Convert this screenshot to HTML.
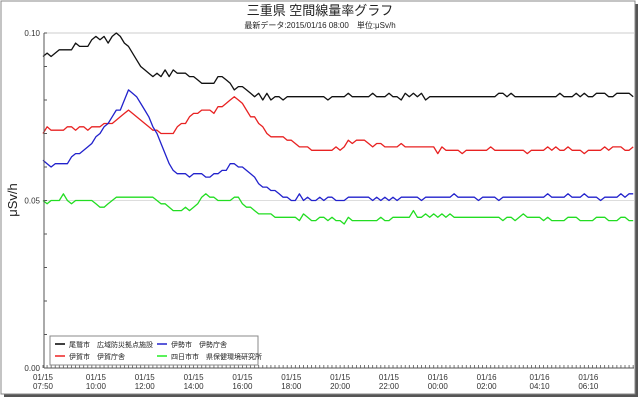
<!DOCTYPE html>
<html><head><meta charset="utf-8">
<style>
html,body{margin:0;padding:0;background:#fff;}
svg{display:block;font-family:"Liberation Sans","Noto Sans CJK JP",sans-serif;}
</style></head>
<body>
<svg id="chart" width="640" height="400" viewBox="0 0 640 400">
  <rect x="4" y="4" width="634" height="393" fill="#555"/>
  <rect x="1" y="1" width="634" height="393" fill="#fff" stroke="#888" stroke-width="1"/>
  <text x="320" y="15" text-anchor="middle" font-size="13" fill="#222">三重県 空間線量率グラフ</text>
  <text x="320" y="28" text-anchor="middle" font-size="8" fill="#222">最新データ:2015/01/16 08:00　単位:μSv/h</text>
  <text x="0" y="0" transform="translate(17,200) rotate(-90)" text-anchor="middle" font-size="13" fill="#222">μSv/h</text>
  <g id="grid"></g>
  <g id="series"></g>
  <g id="axes"></g>
  <g>
    <rect x="50" y="336" width="208" height="29" fill="#fff" stroke="#888" stroke-width="1"/>
    <g><line x1="55" y1="344" x2="65" y2="344" stroke="#000" stroke-width="1.5"/><text x="69" y="347" font-size="7" fill="#222">尾鷲市　広域防災拠点施設</text></g>
    <g><line x1="157" y1="344" x2="167" y2="344" stroke="#22c" stroke-width="1.5"/><text x="171" y="347" font-size="7" fill="#222">伊勢市　伊勢庁舎</text></g>
    <g><line x1="55" y1="356" x2="65" y2="356" stroke="#e22" stroke-width="1.5"/><text x="69" y="359" font-size="7" fill="#222">伊賀市　伊賀庁舎</text></g>
    <g><line x1="157" y1="356" x2="167" y2="356" stroke="#2e2" stroke-width="1.5"/><text x="171" y="359" font-size="7" fill="#222">四日市市　県保健環境研究所</text></g>
  </g>
</svg>
<script>
const categories = Array.from({length:146}, (_, i) => i);
const tickLabels = [["01/15","07:50",0],["01/15","10:00",13],["01/15","12:00",25],["01/15","14:00",37],["01/15","16:00",49],["01/15","18:00",61],["01/15","20:00",73],["01/15","22:00",85],["01/16","00:00",97],["01/16","02:00",109],["01/16","04:10",122],["01/16","06:10",134]];
const yTicks = [0,0.01,0.02,0.03,0.04,0.05,0.06,0.07,0.08,0.09,0.10];
const yLabels = [[0,"0.00"],[0.05,"0.05"],[0.10,"0.10"]];
const owase = [93,94,93,94,95,95,95,95,97,96, 96,96,98,99,98,99,97,99,100,99, 97,96,94,92,90,89,88,87,88,87, 89,87,89,88,88,88,87,87,86,85, 85,85,85,87,87,86,85,83,84,84, 83,82,81,82,80,82,80,81,81,80, 81,81,81,81,81,81,81,81,81,81, 80,81,81,81,81,82,81,81,81,81, 81,82,81,81,81,82,81,81,80,82, 81,82,81,82,80,81,81,81,81,81, 81,81,81,81,81,81,81,81,81,81, 81,81,82,82,81,82,81,81,81,81, 81,81,81,81,81,81,81,82,81,81, 81,82,81,82,81,81,82,82,82,81, 81,82,82,82,82,81];
const iga = [70,72,71,71,71,71,72,72,71,72, 72,71,72,72,72,73,73,73,74,75, 76,77,76,75,74,73,72,71,71,70, 70,70,70,72,73,73,75,76,76,77, 77,77,76,78,78,79,80,81,80,79, 77,75,75,73,72,70,69,69,69,69, 68,68,67,66,66,66,65,65,65,65, 65,65,66,65,66,68,67,68,68,68, 67,66,67,67,66,66,66,66,67,66, 66,66,66,66,66,66,66,64,66,65, 65,65,65,64,65,65,65,65,65,65, 66,65,65,65,65,65,65,65,65,64, 65,65,65,65,66,65,66,65,65,66, 65,65,65,64,65,65,65,65,66,65, 66,66,66,65,65,66];
const ise = [62,61,60,61,61,61,61,63,64,64, 65,66,67,69,70,72,73,75,77,77, 80,83,82,81,79,77,75,72,70,67, 64,61,59,58,58,58,57,58,58,58, 57,57,58,58,59,59,61,61,60,60, 59,58,57,55,54,54,53,53,52,51, 51,50,50,52,50,51,50,50,51,50, 51,51,50,50,50,51,51,51,51,51, 51,50,51,50,51,50,51,50,51,51, 51,51,51,50,51,51,51,51,51,51, 51,52,51,51,51,51,51,50,51,51, 51,51,50,51,51,51,51,51,51,51, 51,51,51,51,52,51,51,51,51,52, 51,51,51,52,51,51,51,50,51,51, 51,51,52,51,52,52];
const yokkaichi = [50,49,50,50,50,52,50,49,50,50, 50,50,50,49,48,48,49,50,51,51, 51,51,51,51,51,51,51,51,50,49, 49,48,47,47,47,48,47,48,49,51, 52,51,51,50,50,50,50,51,51,49, 48,48,47,46,46,46,46,45,45,45, 45,45,45,44,46,45,44,44,45,45, 44,45,44,44,43,45,44,44,44,44, 44,44,44,45,44,44,45,45,45,45, 45,47,45,45,46,45,46,45,46,45, 46,45,45,45,45,45,45,45,45,45, 45,45,45,44,45,45,44,45,46,45, 45,45,45,44,45,44,44,44,44,45, 45,45,44,44,44,44,45,45,45,44, 44,44,45,45,44,44];

const NS = "http://www.w3.org/2000/svg";
const X0 = 43, STEP = 4.07, Y0 = 368, YTOP = 33;
function xScale(i){ return X0 + i * STEP; }
function yScale(v){ return Y0 - (v / 0.1) * (Y0 - YTOP); }
function mk(tag, attrs, parent){
  const el = document.createElementNS(NS, tag);
  for (const k in attrs) el.setAttribute(k, attrs[k]);
  parent.appendChild(el);
  return el;
}
const grid = document.getElementById('grid');
const axes = document.getElementById('axes');
const series = document.getElementById('series');

// gridline at 0.05 and plot top border
const g1 = mk('line', {x1:44, x2:634, y1:yScale(0.05), y2:yScale(0.05), stroke:'#ddd', 'stroke-width':1}, grid);


const topB = mk('line', {x1:44, x2:634, y1:YTOP, y2:YTOP, stroke:'#ccc', 'stroke-width':1}, grid);



// axes
const yAxis = mk('line', {x1:44, x2:44, y1:YTOP, y2:Y0, stroke:'#555', 'stroke-width':1}, axes);


const xAxis = mk('line', {x1:44, x2:634, y1:Y0, y2:Y0, stroke:'#555', 'stroke-width':1}, axes);



yTicks.forEach(v => {
  const t = mk('line', {x1:44, x2:47, y1:yScale(v), y2:yScale(v), stroke:'#555', 'stroke-width':1}, axes);
  
  
});
yLabels.forEach(([v, s]) => {
  const t = mk('text', {x:40, y:yScale(v)+3, 'text-anchor':'end', 'font-size':8, fill:'#333'}, axes);
  t.textContent = s;
  
  
});
categories.forEach(i => {
  const t = mk('line', {x1:xScale(i), x2:xScale(i), y1:Y0-3, y2:Y0, stroke:'#555', 'stroke-width':0.8}, axes);
  
  
});
tickLabels.forEach(([d, t, i]) => {
  const tx = mk('text', {x:xScale(i), y:380, 'text-anchor':'middle', 'font-size':8, fill:'#333'}, axes);
  
  
  const s1 = mk('tspan', {x:xScale(i), dy:0}, tx); s1.textContent = d;
  const s2 = mk('tspan', {x:xScale(i), dy:9}, tx); s2.textContent = t;
});

function drawLine(vals, color, name){
  const pts = vals.map((v, i) => xScale(categories[i]).toFixed(1) + ',' + yScale(v / 1000).toFixed(1)).join(' ');
  const p = mk('polyline', {points:pts, fill:'none', stroke:color, 'stroke-width':1.3, 'stroke-linejoin':'round'}, series);
  
  
}
drawLine(yokkaichi, '#22dd22', 'series-yokkaichi');
drawLine(iga, '#e82222', 'series-iga');
drawLine(ise, '#2222cc', 'series-ise');
drawLine(owase, '#111', 'series-owase');
</script>
</body></html>
